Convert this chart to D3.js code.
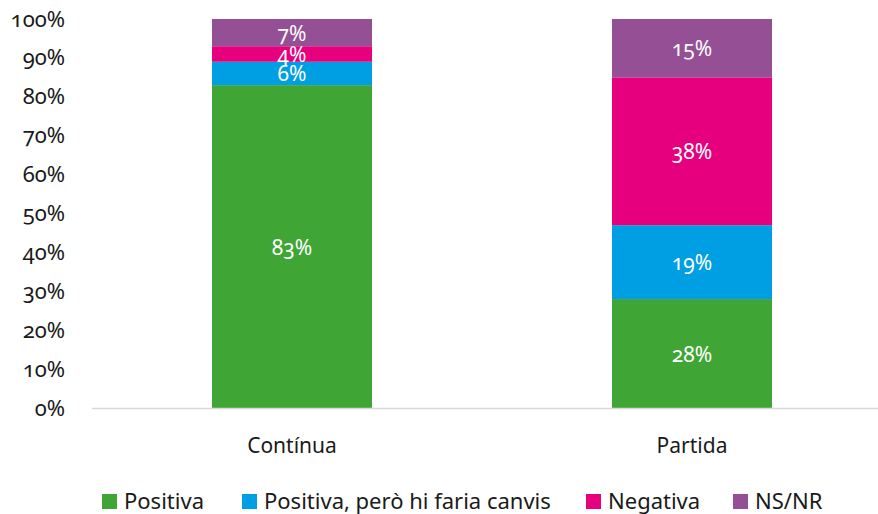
<!DOCTYPE html>
<html>
<head>
<meta charset="utf-8">
<script src="https://cdn.jsdelivr.net/npm/d3@7"></script>
<style>
  body { margin: 0; background: #fff; }
  svg text { font-family: "Noto Sans", "Open Sans", sans-serif; font-variant-numeric: oldstyle-nums; }
</style>
</head>
<body>
<div id="chart"></div>
<script>
// categories and series (percent)
const categories = ["Contínua", "Partida"];
const seriesNames = ["Positiva", "Positiva, però hi faria canvis", "Negativa", "NS/NR"];
const positiva = [83, 28];
const positivaCanvis = [6, 19];
const negativa = [4, 38];
const nsnr = [7, 15];
const yTicks = [0, 10, 20, 30, 40, 50, 60, 70, 80, 90, 100];
const colors = ["#3fa535", "#009fe3", "#e6007e", "#954f94"];

const width = 878, height = 514;
const margin = { top: 19, right: -14, bottom: 106, left: 92 };

const svg = d3.select("#chart").append("svg")
    .attr("width", width)
    .attr("height", height);

// build rows for the stack
const rows = categories.map((c, i) => ({
    cat: c,
    s0: positiva[i], s1: positivaCanvis[i], s2: negativa[i], s3: nsnr[i]
}));
const keys = ["s0", "s1", "s2", "s3"];
const stacked = d3.stack().keys(keys)(rows);

const x = d3.scaleBand()
    .domain(categories)
    .range([margin.left, width - margin.right])
    .paddingInner(0.6)
    .paddingOuter(0.3);

const y = d3.scaleLinear()
    .domain([0, 100])
    .range([height - margin.bottom, margin.top]);

// y axis labels
const yAxis = d3.axisLeft(y)
    .tickValues(yTicks)
    .tickFormat(d => d + "%")
    .tickSize(0)
    .tickPadding(27);
const gy = svg.append("g")
    .attr("transform", `translate(${margin.left},0)`)
    .call(yAxis);
gy.select(".domain").remove();
gy.selectAll("text")
    .style("font-size", "22px")
    .attr("fill", "#1a1a1a");

// bars
stacked.forEach((layer, k) => {
    svg.append("g")
        .selectAll("rect")
        .data(layer)
        .enter()
        .append("rect")
        .attr("x", d => x(d.data.cat))
        .attr("y", d => y(d[1]))
        .attr("width", x.bandwidth())
        .attr("height", d => y(d[0]) - y(d[1]))
        .attr("fill", colors[k]);

    svg.append("g")
        .selectAll("text")
        .data(layer)
        .enter()
        .append("text")
        .attr("x", d => x(d.data.cat) + x.bandwidth() / 2)
        .attr("y", d => (y(d[0]) + y(d[1])) / 2)
        .attr("dy", "0.38em")
        .attr("text-anchor", "middle")
        .attr("fill", "#fff")
        .style("font-size", "21px")
        .text(d => (d[1] - d[0]) + "%");
});

// x axis line
svg.append("line")
    .attr("x1", margin.left)
    .attr("x2", width)
    .attr("y1", y(0) + 0.5)
    .attr("y2", y(0) + 0.5)
    .attr("stroke", "#d9d9d9")
    .attr("stroke-width", 1.5);

// category labels
svg.append("g")
    .selectAll("text")
    .data(categories)
    .enter()
    .append("text")
    .attr("x", d => x(d) + x.bandwidth() / 2)
    .attr("y", 453)
    .attr("text-anchor", "middle")
    .attr("fill", "#1a1a1a")
    .style("font-size", "21px")
    .text(d => d);

// legend
const legendX = [102, 242, 586, 733];
const legend = svg.append("g");
seriesNames.forEach((name, i) => {
    legend.append("rect")
        .attr("x", legendX[i])
        .attr("y", 494)
        .attr("width", 15)
        .attr("height", 15)
        .attr("fill", colors[i]);
    legend.append("text")
        .attr("x", legendX[i] + 22)
        .attr("y", 509)
        .attr("fill", "#1a1a1a")
        .style("font-size", "22px")
        .text(name);
});
</script>
</body>
</html>
